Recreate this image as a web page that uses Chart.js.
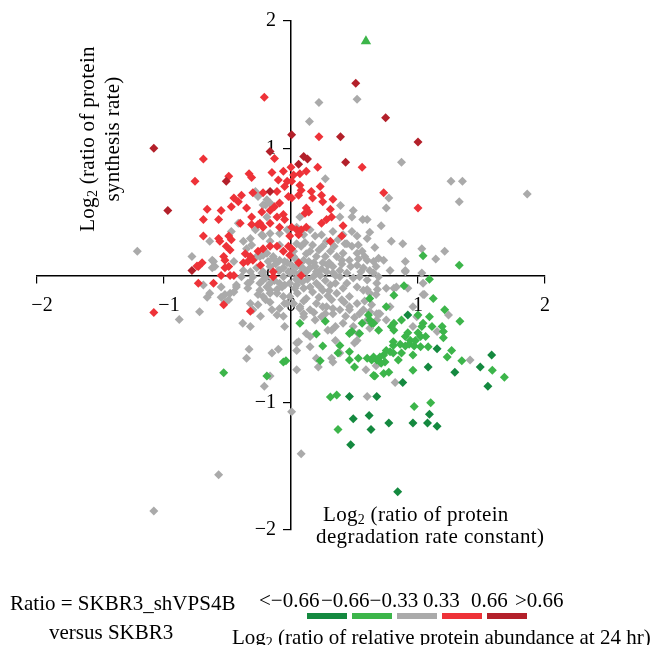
<!DOCTYPE html>
<html>
<head>
<meta charset="utf-8">
<script src="https://cdn.jsdelivr.net/npm/chart.js@4.4.1/dist/chart.umd.min.js"></script>
<style>
  body { margin: 0; background: #fff; }
  #wrap { position: relative; width: 655px; height: 645px; font-family: 'Liberation Serif', serif; color: #000; overflow: hidden; }
  #wrap canvas { position: absolute; left: 0; top: 0; }
  .txt { position: absolute; white-space: nowrap; font-size: 21px; line-height: 22px; }
  .txt sub { font-size: 14px; vertical-align: -3px; line-height: 0; }
  .bar { position: absolute; height: 6px; width: 40px; }
</style>
</head>
<body>
<div id="wrap">
  <canvas id="scatter"></canvas>
  <div class="txt" id="ytitle" style="left:-20px;top:114px;width:240px;line-height:25px;text-align:center;transform:rotate(-90deg);letter-spacing:0.3px;">Log<sub>2</sub> (ratio of protein<br>synthesis rate)</div>
  <div class="txt" style="left:323px;top:503px;letter-spacing:0.3px;">Log<sub>2</sub> (ratio of protein</div>
  <div class="txt" style="left:316px;top:525px;letter-spacing:0.4px;">degradation rate constant)</div>
  <div class="txt" style="left:10px;top:592px;">Ratio = SKBR3_shVPS4B</div>
  <div class="txt" style="left:49px;top:621px;">versus SKBR3</div>
  <div id="legLabels"></div>
  <div class="txt" style="left:232px;top:626px;">Log<sub>2</sub> (ratio of relative protein abundance at 24 hr)</div>
  <div id="legBars"></div>
</div>
<script>
// abundance classes and their colours
var classNames = ['<\u22120.66', '\u22120.66\u22120.33', '0.33', '0.66', '>0.66'];
var classColors = ['#14893f', '#3cb54a', '#aaaaaa', '#ee3238', '#b3202a'];
var classLabelLeft = [259, 321, 423, 471, 515];
var tickValues = [-2, -1, 0, 1, 2];

// [degradation, synthesis] pairs
var darkGreenPts = [[0.92,-0.31],[1.15,-0.575],[1.58,-0.625],[1.49,-0.72],[1.55,-0.87],[1.29,-0.76],[1.08,-0.72],[0.88,-0.84],
  [0.46,-0.95],[0.675,-0.95],[0.49,-1.125],[0.615,-1.10],[1.09,-1.09],[0.96,-1.16],[1.075,-1.16],[1.15,-1.185],[0.63,-1.21],
  [0.77,-1.16],[0.47,-1.33],[0.84,-1.70]];

var greenPts = [[1.04,0.155],[1.325,0.08],[1.09,-0.03],[0.89,-0.08],[0.81,-0.155],[0.62,-0.18],[1.12,-0.18],
  [1.21,-0.27],[1.33,-0.36],[0.07,-0.375],[0.62,-0.35],[0.635,-0.375],[0.75,-0.245],[0.87,-0.35],[1.0,-0.31],[1.04,-0.375],
  [1.03,-0.40],[1.09,-0.325],[1.11,-0.40],[1.19,-0.40],[1.20,-0.44],[1.20,-0.49],[1.265,-0.59],[1.23,-0.64],[1.345,-0.67],
  [1.585,-0.745],[1.68,-0.80],[0.96,-0.745],[0.77,-0.76],[0.73,-0.77],[0.66,-0.79],[0.81,-0.375],[0.81,-0.43],[0.86,-0.54],
  [0.90,-0.48],[0.92,-0.45],[0.94,-0.51],[0.93,-0.54],[0.90,-0.555],[0.97,-0.555],[0.98,-0.51],[1.0,-0.45],[1.02,-0.48],
  [1.06,-0.48],[1.02,-0.56],[0.805,-0.55],[0.75,-0.59],[0.78,-0.60],[0.805,-0.61],[0.73,-0.625],[0.87,-0.61],[0.845,-0.665],
  [0.96,-0.625],[1.08,-0.56],[0.70,-0.64],[0.675,-0.665],[0.65,-0.64],[0.74,-0.68],[0.71,-0.69],[0.635,-0.665],[0.60,-0.65],
  [0.53,-0.65],[0.46,-0.665],[0.46,-0.60],[0.54,-0.455],[0.56,-0.375],[0.48,-0.44],[0.385,-0.55],[0.25,-0.555],[0.23,-0.67],
  [0.50,-0.72],[0.65,-0.785],[0.37,-0.61],[0.69,-0.43],[0.65,-0.375],[0.61,-0.31],[0.20,-0.46],[0.27,-0.36],[0.36,-0.94],
  [0.31,-0.955],[0.97,-1.03],[1.10,-1.00],[0.37,-1.21],[0.46,-0.455],[0.79,-0.40],[0.805,-0.52],
  [-0.53,-0.765],[-0.06,-0.68],[-0.04,-0.67],[-0.19,-0.79]];

var greenTriangle = [[0.59,1.84]];

var greyPts = [[0.22,1.36],[0.145,1.21],[0.52,1.385],[0.87,0.89],[0.27,0.76],[0.77,0.61],[0.75,0.53],[0.39,0.55],[0.49,0.51],
  [0.48,0.46],[0.565,0.44],[0.60,0.44],[0.62,0.34],[0.71,0.39],[0.52,0.31],[0.79,0.27],[0.88,0.25],[0.66,0.22],[1.03,0.21],
  [0.90,0.11],[0.90,0.04],[1.14,0.13],[1.03,0.02],[1.26,0.74],[1.35,0.74],[1.86,0.64],[1.325,0.58],[1.21,0.19],
  [0.75,-0.10],[0.81,-0.10],[1.05,-0.15],[0.92,-0.10],[0.67,-0.15],[0.68,-0.11],[0.60,-0.11],
  [-1.21,0.19],[-0.78,0.15],[-0.62,0.12],[-0.62,0.06],[-0.28,0.66],[-0.26,0.62],
  [-0.88,-0.345],[-0.72,-0.285],[-0.66,-0.17],[-0.55,-0.17],[-0.52,-0.15],[-0.48,-0.14],[-0.45,-0.13],[-0.52,-0.21],
  [-0.49,-0.19],[-0.43,-0.09],[-0.34,-0.06],[-0.32,-0.05],[-0.32,-0.22],[-0.26,-0.23],[-0.30,-0.27],[-0.24,-0.32],
  [-0.26,-0.15],[-0.165,-0.14],[-0.11,-0.11],[-0.07,-0.09],[-0.15,-0.27],[-0.09,-0.26],[-0.11,-0.31],[-0.06,-0.32],
  [-0.20,-0.19],[-0.165,-0.21],[-0.38,-0.375],[-0.32,-0.40],[-0.05,-0.40],[-0.33,-0.58],[-0.35,-0.65],[-0.15,-0.61],
  [-0.10,-0.58],[-0.165,-0.79],[-0.21,-0.87],[0.005,-1.07],[0.045,-0.59],[0.045,-0.74],[0.06,-0.52],[-0.05,-0.22],
  [-0.39,-0.01],[-0.30,-0.01],[-0.245,-0.06],[-0.22,-0.035],[-0.165,-0.06],[-0.19,-0.09],[-0.06,-0.01],[0.06,-0.035],
  [0.03,-0.10],[-0.01,-0.165],[-0.09,-0.06],[-0.05,-0.075],[0.08,-1.40],[-0.57,-1.565],[-1.08,-1.85],
  [1.04,-0.15],[1.24,-0.31],[1.15,-0.44],[1.41,-0.665],[0.82,-0.84],[0.60,-0.95],[0.59,-0.74],[0.67,-0.71],[0.15,-0.56],
  [0.215,-0.72],[0.32,-0.65],[0.33,-0.68],[0.385,-0.61],[0.50,-0.53],[0.53,-0.455],[0.62,-0.415],[0.60,-0.35],[0.69,-0.30],
  [0.75,-0.35],[0.96,-0.40],[0.99,-0.325],[0.045,-0.53],[0.12,-0.455],[0.15,-0.48],
  [0.29,-0.43],[0.35,-0.40],[0.41,-0.375],[0.49,-0.40],[0.46,-0.27],[0.52,-0.22],[0.57,-0.27],[0.635,-0.23],[0.675,-0.30],
  [0.25,-0.245],[0.33,-0.26],[0.385,-0.27],[0.40,-0.19],[0.20,-0.22],[0.10,-0.325],[0.19,-0.35],[0.07,-0.245],
  [0.02,0.03],[0.07,0.02],[0.12,0.03],[0.175,-0.01],[0.23,0.0],[0.28,0.03],[0.33,0.02],[0.385,-0.01],[0.44,0.02],
  [0.49,-0.02],[0.54,-0.01],[0.60,-0.035],[0.65,0.02],[0.69,-0.01],
  [-0.01,-0.06],[0.045,-0.075],[0.10,-0.10],[0.15,-0.09],[0.20,-0.06],[0.25,-0.115],[0.31,-0.075],[0.36,-0.14],[0.41,-0.10],
  [0.46,-0.165],[0.52,-0.09],[0.57,-0.115],[0.62,-0.14],[0.675,-0.06],[0.83,-0.09],[0.90,0.03],[1.04,-0.06],
  [0.02,-0.22],[0.07,-0.26],[0.10,-0.30],[0.15,-0.27],[0.24,-0.325],[0.28,-0.245],[0.33,-0.30],[0.46,-0.245],[0.54,-0.30],
  [0.62,-0.285],[0.70,-0.30],[0.675,-0.35],[0.32,-0.43],[0.35,-0.51],[0.52,-0.51],[0.20,-0.65],[0.96,-0.245],[0.78,-0.245],
  [-0.415,0.41],[-0.32,0.29],[-0.64,0.27],[-0.61,0.11],[-0.60,0.07],[-0.45,0.11],[-0.20,0.555],[-0.165,0.57],[-0.19,0.46],
  [-0.28,0.36],[-0.23,0.32],[-0.165,0.33],[-0.09,0.33],[-0.03,0.36],[-0.31,0.24],[-0.245,0.15],[-0.19,0.175],[-0.14,0.15],
  [-0.09,0.12],[-0.03,0.10],[0.02,0.15],[-0.165,0.07],[-0.09,0.04],[-0.02,0.03],[0.045,0.07],[-0.23,0.02],[-0.32,0.03],
  [-0.375,0.27],[-0.35,0.21],[-0.22,0.31],[-0.165,0.27],[-0.09,0.24],[0.005,0.16],[-0.22,0.16],[-0.14,0.135],[-0.05,0.11],
  [0.005,0.08],[-0.22,0.03],[-0.10,0.04],[-0.01,0.02],[0.045,0.12],[0.045,0.25],[0.045,0.38],[-0.27,0.15],[-0.375,0.04],
  [-0.245,-0.115],[-0.165,-0.115],[-0.11,-0.14],[-0.22,-0.165],[-0.06,-0.165],[-0.69,-0.075],[-0.55,-0.09],[-0.43,-0.075],
  [-0.34,-0.10],[-0.64,-0.14],[-0.47,0.345],[-0.22,0.555],[-0.19,0.595],
  [0.07,0.46],[0.15,0.36],[0.10,0.32],[0.19,0.31],[0.24,0.32],[0.33,0.345],[0.37,0.28],[0.44,0.25],[0.48,0.23],[0.52,0.175],
  [0.56,0.19],[0.60,0.12],[0.65,0.11],[0.67,0.07],[0.25,0.23],[0.31,0.19],[0.36,0.15],[0.41,0.175],[0.46,0.12],[0.52,0.08],
  [0.57,0.06],[0.62,0.04],[0.15,0.19],[0.20,0.15],[0.25,0.10],[0.33,0.07],[0.385,0.04],[0.20,0.03],[0.10,0.12],[0.15,0.06],
  [0.08,0.23],[0.02,0.19],[0.385,0.46],[0.48,0.345],[0.60,0.29],[0.53,0.24],[0.425,0.25],[0.58,0.15],[0.69,0.135],[0.78,0.04],
  [0.73,0.12],[0.41,0.32],[0.12,0.17],[0.18,0.10],[0.27,0.15],[0.30,0.10],[0.35,0.0],[0.40,0.09],[0.13,-0.03],[0.27,-0.04],
  [0.22,-0.17],[0.12,-0.18],[0.32,-0.19],[0.42,-0.21],[0.05,-0.14],[-0.03,-0.22],[0.17,-0.13],[0.29,-0.16],[0.06,0.0],
  [0.09,0.06],[0.14,0.11],[0.19,0.07],[0.24,0.05],[0.29,0.08],[0.22,0.20],[0.17,0.24],[0.11,0.26],[0.28,0.27],[0.34,0.23],
  [0.04,-0.03],[0.09,-0.05],[0.23,-0.09],[0.35,-0.06],[0.44,-0.06],[0.30,-0.12],[0.40,0.12],[0.47,0.07],[0.53,0.13],
  [0.55,0.03],[-0.06,0.06],[-0.12,0.09],[-0.18,0.11],[-0.13,-0.04],[-0.20,-0.02],[-0.27,0.06],[0.10,-0.20],[0.18,-0.29],
  [0.27,-0.30],[0.43,-0.32],[0.50,-0.33],[0.58,-0.20]];

var redPts = [[-1.08,-0.29],[-0.73,-0.06],[-0.61,-0.06],[-0.53,-0.23],[-0.32,-0.28],[-0.14,-0.01],
  [-0.21,1.40],[-0.69,0.915],[-0.13,0.92],[-0.756,0.74],[-0.49,0.78],[-0.33,0.80],[-0.31,0.77],[-0.15,0.81],[-0.06,0.82],
  [-0.10,0.75],[-0.03,0.74],[0.02,0.79],[-0.45,0.61],[-0.39,0.63],[-0.415,0.58],[-0.30,0.65],[-0.22,0.65],[-0.11,0.66],
  [-0.05,0.70],[-0.02,0.62],[-0.66,0.52],[-0.69,0.44],[-0.55,0.51],[-0.57,0.44],[-0.47,0.54],[-0.35,0.53],
  [-0.23,0.50],[-0.165,0.51],[-0.13,0.54],[-0.09,0.57],[-0.31,0.46],[-0.26,0.40],[-0.22,0.38],[-0.165,0.41],[-0.09,0.38],
  [-0.05,0.44],[-0.11,0.46],[-0.06,0.48],[-0.69,0.31],[-0.57,0.29],[-0.56,0.27],[-0.49,0.31],[-0.47,0.28],[-0.51,0.23],
  [-0.48,0.20],[-0.49,0.07],[-0.52,0.06],[-0.36,0.17],[-0.32,0.15],[-0.26,0.19],[-0.22,0.21],[-0.165,0.23],[-0.11,0.23],
  [-0.06,0.19],[-0.02,0.23],[-0.01,0.16],[-0.375,0.10],[-0.34,0.11],[-0.30,0.12],[-0.24,0.08],[-0.70,0.10],[-0.73,0.07],
  [-0.53,0.15],[-0.52,0.12],[-0.55,0.0],[-0.48,0.0],[-0.45,0.0],[-0.14,0.03],[-0.40,0.41],[-0.31,0.40],[-0.245,0.41],
  [-0.74,0.075],
  [0.22,1.09],[0.21,0.85],[0.56,0.85],[0.0,0.85],[0.07,0.80],[0.12,0.82],[0.005,0.74],[0.07,0.71],[0.08,0.67],[0.06,0.63],
  [0.005,0.61],[0.16,0.66],[0.17,0.61],[0.23,0.70],[0.24,0.63],[0.25,0.58],[0.33,0.60],[0.73,0.65],[1.0,0.53],[0.31,0.52],
  [0.32,0.46],[0.12,0.53],[0.14,0.50],[0.11,0.49],[0.24,0.41],[0.28,0.44],[0.41,0.39],[0.40,0.31],[0.31,0.27],[0.005,0.38],
  [0.045,0.36],[0.08,0.36],[0.12,0.38],[-0.01,0.31],[0.06,0.32],[0.005,0.21],[0.06,0.10],[0.08,0.0]];

var darkRedPts = [[-1.08,1.00],[-0.97,0.51],[-0.78,0.04],[-0.51,0.74],[-0.165,0.66],[-0.165,0.975],[0.005,1.106],[0.06,0.875],
  [0.10,0.935],[0.13,0.915],[0.39,1.09],[0.43,0.89],[0.51,1.51],[0.745,1.24],[1.0,1.05]];

function toXY(arr) {
  return arr.map(function(p) { return {x: p[0], y: p[1]}; });
}

function numText(v) {
  return v < 0 ? '\u2212' + Math.abs(v) : String(v);
}
// x labels: negative ones sit a bit right of their tick, as in the original
function xTickLabel(v) {
  return v < 0 ? '\u2002' + numText(v) : numText(v);
}
// y labels: keep a gap between the text and the axis line
function yTickLabel(v) {
  return numText(v) + '\u2002 ';
}

var serif = {family: "'Liberation Serif', serif", size: 20};

function diamonds(pts, color) {
  return {data: toXY(pts), backgroundColor: color, pointStyle: 'rectRot', pointRadius: 4.5, borderWidth: 0};
}

var datasets = [
  diamonds(darkGreenPts, classColors[0]),
  diamonds(greenPts, classColors[1]),
  {data: toXY(greenTriangle), backgroundColor: classColors[1], pointStyle: 'triangle', pointRadius: 6, borderWidth: 0},
  diamonds(darkRedPts, classColors[4]),
  diamonds(redPts, classColors[3]),
  diamonds(greyPts, classColors[2])
];

function fixedTicks(s) {
  s.ticks = tickValues.map(function(v) { return {value: v}; });
}

var ctx = document.getElementById('scatter').getContext('2d');
var chart = new Chart(ctx, {
  type: 'scatter',
  data: {datasets: datasets},
  options: {
    responsive: true,
    maintainAspectRatio: false,
    animation: false,
    layout: {padding: {left: 37, right: 110, top: 21, bottom: 115}},
    plugins: {legend: {display: false}, tooltip: {enabled: false}},
    scales: {
      x: {
        type: 'linear', min: -2, max: 2, position: {y: 0}, z: 1,
        afterBuildTicks: fixedTicks,
        ticks: {color: '#000', font: serif, padding: 11, callback: xTickLabel, maxRotation: 0},
        grid: {drawOnChartArea: false, drawTicks: true, tickLength: 7, color: '#000', lineWidth: 1.2},
        border: {color: '#000', width: 1.5}
      },
      y: {
        type: 'linear', min: -2, max: 2, position: {x: 0}, z: 1,
        afterBuildTicks: fixedTicks,
        ticks: {color: '#000', font: serif, padding: 6, callback: yTickLabel},
        grid: {drawOnChartArea: false, drawTicks: true, tickLength: 7, color: '#000', lineWidth: 1.2},
        border: {color: '#000', width: 1.5}
      }
    }
  }
});

// legend: colour key with its labels
var labels = document.getElementById('legLabels');
var bars = document.getElementById('legBars');
for (var i = 0; i < classColors.length; i++) {
  var t = document.createElement('div');
  t.className = 'txt';
  t.style.left = classLabelLeft[i] + 'px';
  t.style.top = '589px';
  t.textContent = classNames[i];
  labels.appendChild(t);

  var b = document.createElement('div');
  b.className = 'bar';
  b.style.left = (307 + i * 45) + 'px';
  b.style.top = '613px';
  b.style.background = classColors[i];
  bars.appendChild(b);
}
</script>
</body>
</html>
